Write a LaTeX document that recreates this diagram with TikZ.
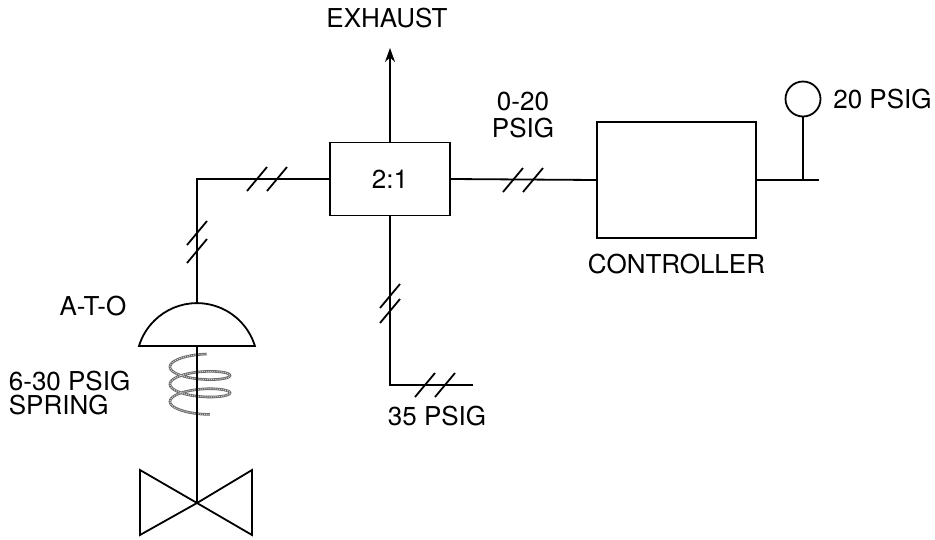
\documentclass[tikz,border=0pt]{standalone}
\usepackage{fontspec}
\setmainfont{TeX Gyre Heros}
\usetikzlibrary{positioning,arrows.meta}

% two short slashes across a signal line
\newcommand{\pipehash}[2]{\draw[hash] (#1,#2) ++(-10,12) -- ++(20,-24);}

\begin{document}
\begin{tikzpicture}[x=1pt,y=-1pt,line width=1.8pt,font=\fontsize{26}{27}\selectfont,
  box/.style={draw,rectangle,inner sep=0pt},
  lbl/.style={inner sep=0pt},
  hash/.style={line width=1.8pt},
  spring/.style={line width=2.6pt,black!60},
  springfleck/.style={line width=1.1pt,black!20,densely dotted}]
\useasboundingbox (0,0) rectangle (935,539);

\node[box,minimum width=120pt,minimum height=73pt] (ratio) at (390,179) {2:1};
\node[box,minimum width=159pt,minimum height=116pt] (ctrl) at (676.5,180) {};
\node[lbl,below=14pt of ctrl] (ctrllbl) {CONTROLLER};
\node[draw,circle,minimum size=35pt,inner sep=0pt] (supply) at (803,99) {};
\node[lbl,right=11pt of supply] (supplylbl) {20 PSIG};
\node[lbl] (exhaust) at (387,18) {EXHAUST};
\node[lbl,align=center] (siglbl) at (523,115) {0-20\\PSIG};
\node[lbl] (airlbl) at (437,416) {35 PSIG};
\node[lbl] (ato) at (93,306) {A-T-O};
\node[lbl,align=left,anchor=west] (rnglbl) at (8,393) {6-30 PSIG\\[-3pt]SPRING};

\coordinate (exhtip) at (390,48);
\coordinate (tl) at (197,179);
\coordinate (domtop) at (197,303);
\coordinate (dome) at (197,346);
\coordinate (valve) at (197,503);
\coordinate (bl) at (390,385);
\coordinate (airend) at (473,385);
\coordinate (tee) at (803,180);
\coordinate (sigend) at (819,180);

% pipes
\draw[-{Stealth[length=14pt,width=10pt]}] (ratio.north) -- (exhtip);
\draw (ratio.west) -- (tl) -- (domtop);
\draw (ratio.south) -- (bl) -- (airend);
\draw (ratio.east) -- (ctrl.west);
\draw (ctrl.east) -- (sigend);
\draw (tee) -- (supply.south);

\pipehash{257}{179}
\pipehash{277}{179}
\pipehash{197}{233}
\pipehash{197}{251}
\pipehash{513}{180}
\pipehash{533}{180}
\pipehash{390}{296}
\pipehash{390}{311}
\pipehash{425}{385}
\pipehash{445}{385}

% actuator
\draw (dome) ++(-58,0) arc[start angle=163,end angle=17,radius=60.6pt] -- cycle;
\draw[spring] plot[domain=77:1009,samples=300,smooth] ({200+30*cos(\x)},{361.8+17.4*(\x-77)/360-8*sin(\x)});
\draw[springfleck] plot[domain=77:1009,samples=300,smooth] ({200+30*cos(\x)},{361.8+17.4*(\x-77)/360-8*sin(\x)});
\draw (dome) -- (valve);
\draw (valve) -- ++(-57,-33) -- ++(0,65) -- cycle;
\draw (valve) -- ++(55,-33) -- ++(0,65) -- cycle;

\end{tikzpicture}
\end{document}
